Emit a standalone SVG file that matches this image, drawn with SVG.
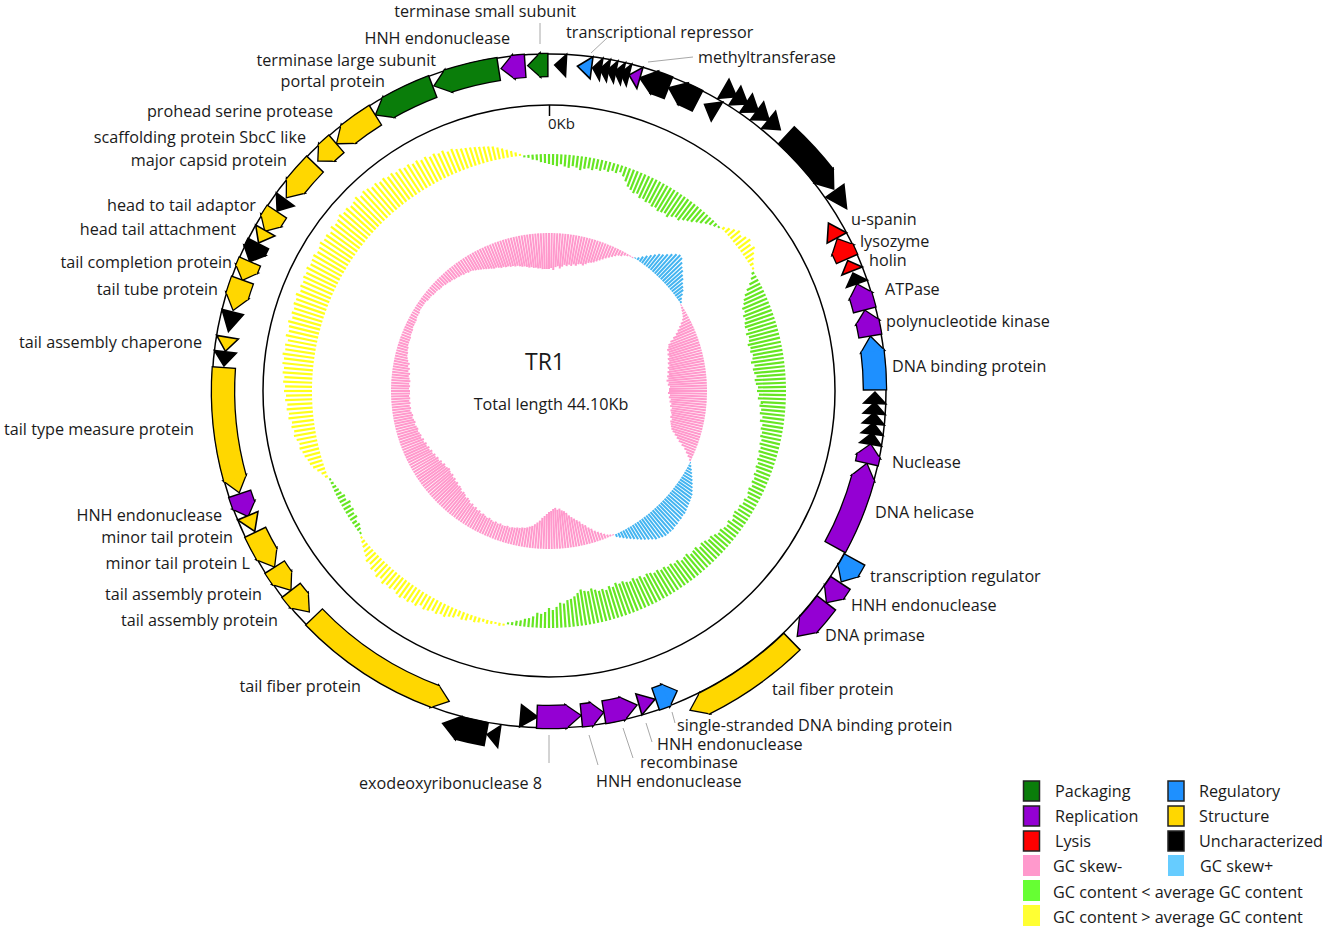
<svg xmlns="http://www.w3.org/2000/svg" width="1325" height="931" viewBox="0 0 1325 931">
<style>
.oi{fill:none;stroke:#000;stroke-width:24.6}
.cb{fill:none;stroke-width:22}
.ho{fill:#000;stroke:#000;stroke-width:2.6;stroke-linejoin:miter;stroke-miterlimit:10}
.tr{stroke:#000;stroke-width:1.6;stroke-linejoin:miter;stroke-miterlimit:10}
.fP{fill:#0a7d0a}.sP{stroke:#0a7d0a}
.fR{fill:#9400d3}.sR{stroke:#9400d3}
.fL{fill:#ff0000}.sL{stroke:#ff0000}
.fG{fill:#1e90ff}.sG{stroke:#1e90ff}
.fS{fill:#ffd700}.sS{stroke:#ffd700}
.fU{fill:#000}
.lb{font-family:"Open Sans","Liberation Sans",sans-serif;font-size:16.2px;fill:#1a1a1a}
.ln{stroke:#a8a8a8;stroke-width:1;fill:none}
.gl{stroke:#66e622;stroke-width:2.2}
.gh{stroke:#ffff1a;stroke-width:2.2}
.kp{stroke:#ff99cc;stroke-width:2}
.kb{stroke:#44b4f0;stroke-width:2}
</style>
<defs>
<path id="hi2" d="M0-326L10.99-314.81L11.76-336.79Z"/>
<path id="hi25" d="M0-326L13.74-314.70L14.70-336.68Z"/>
<path id="ti15" d="M0-326L8.25-314.89L8.82-336.89Z"/>
<path id="ti3" d="M0-326L16.49-314.57L17.64-336.54Z"/>
<path id="ti35" d="M0-326L19.23-314.41L20.57-336.37Z"/>
<path id="to2" d="M0-349L-11.80-337.79L-12.56-359.78Z"/>
<path id="to25" d="M0-349L-14.74-337.68L-15.70-359.66Z"/>
<path id="to35" d="M0-349L-20.64-337.37L-21.97-359.33Z"/>
</defs>
<rect width="1325" height="931" fill="#fff"/>

<g id="gc-content" transform="translate(549 391)">
<g class="gl">
<path d="M0-237v10" transform="rotate(0)"/><path d="M0-237v11" transform="rotate(1)"/><path d="M0-237v12" transform="rotate(2)"/><path d="M0-237v10" transform="rotate(3)"/><path d="M0-237v12" transform="rotate(4)"/><path d="M0-237v13" transform="rotate(5)"/><path d="M0-237v11" transform="rotate(6)"/><path d="M0-237v12" transform="rotate(7)"/><path d="M0-237v14" transform="rotate(8)"/><path d="M0-237v12" transform="rotate(9)"/><path d="M0-237v11" transform="rotate(10)"/><path d="M0-237v12" transform="rotate(11)"/><path d="M0-237v10" transform="rotate(12)"/><path d="M0-237v11" transform="rotate(13)"/><path d="M0-237v9" transform="rotate(14)"/><path d="M0-237v10" transform="rotate(15)"/><path d="M0-237v8" transform="rotate(16)"/><path d="M0-237v9" transform="rotate(17)"/><path d="M0-237v7" transform="rotate(18)"/><path d="M0-237v10" transform="rotate(19)"/><path d="M0-237v14" transform="rotate(20)"/><path d="M0-237v18" transform="rotate(21)"/><path d="M0-237v20" transform="rotate(22)"/><path d="M0-237v22" transform="rotate(23)"/><path d="M0-237v21" transform="rotate(24)"/><path d="M0-237v24" transform="rotate(25)"/><path d="M0-237v23" transform="rotate(26)"/><path d="M0-237v25" transform="rotate(27)"/><path d="M0-237v24" transform="rotate(28)"/><path d="M0-237v26" transform="rotate(29)"/><path d="M0-237v25" transform="rotate(30)"/><path d="M0-237v27" transform="rotate(31)"/><path d="M0-237v26" transform="rotate(32)"/><path d="M0-237v25" transform="rotate(33)"/><path d="M0-237v27" transform="rotate(34)"/><path d="M0-237v24" transform="rotate(35)"/><path d="M0-237v22" transform="rotate(36)"/><path d="M0-237v23" transform="rotate(37)"/><path d="M0-237v20" transform="rotate(38)"/><path d="M0-237v18" transform="rotate(39)"/><path d="M0-237v16" transform="rotate(40)"/><path d="M0-237v13" transform="rotate(41)"/><path d="M0-237v11" transform="rotate(42)"/><path d="M0-237v8" transform="rotate(43)"/><path d="M0-237v6" transform="rotate(44)"/><path d="M0-237v4" transform="rotate(45)"/><path d="M0-237v2" transform="rotate(46)"/>
<path d="M0-237v3" transform="rotate(60)"/><path d="M0-237v6" transform="rotate(61)"/><path d="M0-237v10" transform="rotate(62)"/><path d="M0-237v15" transform="rotate(63)"/><path d="M0-237v19" transform="rotate(64)"/><path d="M0-237v22" transform="rotate(65)"/><path d="M0-237v24" transform="rotate(66)"/><path d="M0-237v27" transform="rotate(67)"/><path d="M0-237v26" transform="rotate(68)"/><path d="M0-237v29" transform="rotate(69)"/><path d="M0-237v28" transform="rotate(70)"/><path d="M0-237v30" transform="rotate(71)"/><path d="M0-237v31" transform="rotate(72)"/><path d="M0-237v29" transform="rotate(73)"/><path d="M0-237v32" transform="rotate(74)"/><path d="M0-237v30" transform="rotate(75)"/><path d="M0-237v31" transform="rotate(76)"/><path d="M0-237v33" transform="rotate(77)"/><path d="M0-237v31" transform="rotate(78)"/><path d="M0-237v32" transform="rotate(79)"/><path d="M0-237v30" transform="rotate(80)"/><path d="M0-237v31" transform="rotate(81)"/><path d="M0-237v33" transform="rotate(82)"/><path d="M0-237v30" transform="rotate(83)"/><path d="M0-237v32" transform="rotate(84)"/><path d="M0-237v31" transform="rotate(85)"/><path d="M0-237v29" transform="rotate(86)"/><path d="M0-237v31" transform="rotate(87)"/><path d="M0-237v30" transform="rotate(88)"/><path d="M0-237v28" transform="rotate(89)"/><path d="M0-237v29" transform="rotate(90)"/><path d="M0-237v27" transform="rotate(91)"/><path d="M0-237v28" transform="rotate(92)"/><path d="M0-237v25" transform="rotate(93)"/><path d="M0-237v26" transform="rotate(94)"/><path d="M0-237v24" transform="rotate(95)"/><path d="M0-237v25" transform="rotate(96)"/><path d="M0-237v22" transform="rotate(97)"/><path d="M0-237v24" transform="rotate(98)"/><path d="M0-237v21" transform="rotate(99)"/><path d="M0-237v22" transform="rotate(100)"/><path d="M0-237v20" transform="rotate(101)"/><path d="M0-237v21" transform="rotate(102)"/><path d="M0-237v19" transform="rotate(103)"/><path d="M0-237v20" transform="rotate(104)"/><path d="M0-237v18" transform="rotate(105)"/><path d="M0-237v19" transform="rotate(106)"/><path d="M0-237v17" transform="rotate(107)"/><path d="M0-237v18" transform="rotate(108)"/><path d="M0-237v16" transform="rotate(109)"/><path d="M0-237v17" transform="rotate(110)"/><path d="M0-237v15" transform="rotate(111)"/><path d="M0-237v16" transform="rotate(112)"/><path d="M0-237v14" transform="rotate(113)"/><path d="M0-237v15" transform="rotate(114)"/><path d="M0-237v13" transform="rotate(115)"/><path d="M0-237v15" transform="rotate(116)"/><path d="M0-237v14" transform="rotate(117)"/><path d="M0-237v12" transform="rotate(118)"/><path d="M0-237v14" transform="rotate(119)"/><path d="M0-237v13" transform="rotate(120)"/><path d="M0-237v15" transform="rotate(121)"/><path d="M0-237v14" transform="rotate(122)"/><path d="M0-237v16" transform="rotate(123)"/><path d="M0-237v15" transform="rotate(124)"/><path d="M0-237v13" transform="rotate(125)"/><path d="M0-237v16" transform="rotate(126)"/><path d="M0-237v14" transform="rotate(127)"/><path d="M0-237v15" transform="rotate(128)"/><path d="M0-237v17" transform="rotate(129)"/><path d="M0-237v16" transform="rotate(130)"/><path d="M0-237v18" transform="rotate(131)"/><path d="M0-237v20" transform="rotate(132)"/><path d="M0-237v19" transform="rotate(133)"/><path d="M0-237v21" transform="rotate(134)"/><path d="M0-237v22" transform="rotate(135)"/><path d="M0-237v20" transform="rotate(136)"/><path d="M0-237v23" transform="rotate(137)"/><path d="M0-237v22" transform="rotate(138)"/><path d="M0-237v21" transform="rotate(139)"/><path d="M0-237v24" transform="rotate(140)"/><path d="M0-237v23" transform="rotate(141)"/><path d="M0-237v22" transform="rotate(142)"/><path d="M0-237v25" transform="rotate(143)"/><path d="M0-237v24" transform="rotate(144)"/><path d="M0-237v26" transform="rotate(145)"/><path d="M0-237v25" transform="rotate(146)"/><path d="M0-237v27" transform="rotate(147)"/><path d="M0-237v26" transform="rotate(148)"/><path d="M0-237v28" transform="rotate(149)"/><path d="M0-237v27" transform="rotate(150)"/><path d="M0-237v29" transform="rotate(151)"/><path d="M0-237v30" transform="rotate(152)"/><path d="M0-237v28" transform="rotate(153)"/><path d="M0-237v31" transform="rotate(154)"/><path d="M0-237v30" transform="rotate(155)"/><path d="M0-237v32" transform="rotate(156)"/><path d="M0-237v30" transform="rotate(157)"/><path d="M0-237v31" transform="rotate(158)"/><path d="M0-237v33" transform="rotate(159)"/><path d="M0-237v32" transform="rotate(160)"/><path d="M0-237v34" transform="rotate(161)"/><path d="M0-237v31" transform="rotate(162)"/><path d="M0-237v33" transform="rotate(163)"/><path d="M0-237v30" transform="rotate(164)"/><path d="M0-237v32" transform="rotate(165)"/><path d="M0-237v31" transform="rotate(166)"/><path d="M0-237v33" transform="rotate(167)"/><path d="M0-237v35" transform="rotate(168)"/><path d="M0-237v33" transform="rotate(169)"/><path d="M0-237v34" transform="rotate(170)"/><path d="M0-237v36" transform="rotate(171)"/><path d="M0-237v33" transform="rotate(172)"/><path d="M0-237v30" transform="rotate(173)"/><path d="M0-237v28" transform="rotate(174)"/><path d="M0-237v27" transform="rotate(175)"/><path d="M0-237v24" transform="rotate(176)"/><path d="M0-237v25" transform="rotate(177)"/><path d="M0-237v21" transform="rotate(178)"/><path d="M0-237v18" transform="rotate(179)"/><path d="M0-237v20" transform="rotate(180)"/><path d="M0-237v16" transform="rotate(181)"/><path d="M0-237v14" transform="rotate(182)"/><path d="M0-237v15" transform="rotate(183)"/><path d="M0-237v11" transform="rotate(184)"/><path d="M0-237v9" transform="rotate(185)"/><path d="M0-237v8" transform="rotate(186)"/><path d="M0-237v6" transform="rotate(187)"/><path d="M0-237v5" transform="rotate(188)"/><path d="M0-237v3" transform="rotate(189)"/><path d="M0-237v2" transform="rotate(190)"/>
<path d="M0-237v2" transform="rotate(233)"/><path d="M0-237v4" transform="rotate(234)"/><path d="M0-237v6" transform="rotate(235)"/><path d="M0-237v5" transform="rotate(236)"/><path d="M0-237v8" transform="rotate(237)"/><path d="M0-237v7" transform="rotate(238)"/><path d="M0-237v9" transform="rotate(239)"/><path d="M0-237v8" transform="rotate(240)"/><path d="M0-237v10" transform="rotate(241)"/><path d="M0-237v7" transform="rotate(242)"/><path d="M0-237v8" transform="rotate(243)"/><path d="M0-237v6" transform="rotate(244)"/><path d="M0-237v5" transform="rotate(245)"/><path d="M0-237v4" transform="rotate(246)"/><path d="M0-237v3" transform="rotate(247)"/><path d="M0-237v2" transform="rotate(248)"/>
<path d="M0-237v2" transform="rotate(354)"/><path d="M0-237v3" transform="rotate(355)"/><path d="M0-237v5" transform="rotate(356)"/><path d="M0-237v6" transform="rotate(357)"/><path d="M0-237v8" transform="rotate(358)"/><path d="M0-237v9" transform="rotate(359)"/>
</g>
<g class="gh">
<path d="M0-237v-3" transform="rotate(47)"/><path d="M0-237v-6" transform="rotate(48)"/><path d="M0-237v-9" transform="rotate(49)"/><path d="M0-237v-12" transform="rotate(50)"/><path d="M0-237v-10" transform="rotate(51)"/><path d="M0-237v-13" transform="rotate(52)"/><path d="M0-237v-15" transform="rotate(53)"/><path d="M0-237v-12" transform="rotate(54)"/><path d="M0-237v-14" transform="rotate(55)"/><path d="M0-237v-10" transform="rotate(56)"/><path d="M0-237v-7" transform="rotate(57)"/><path d="M0-237v-4" transform="rotate(58)"/><path d="M0-237v-2" transform="rotate(59)"/>
<path d="M0-237v-2" transform="rotate(191)"/><path d="M0-237v-3" transform="rotate(192)"/><path d="M0-237v-2" transform="rotate(193)"/><path d="M0-237v-3" transform="rotate(194)"/><path d="M0-237v-4" transform="rotate(195)"/><path d="M0-237v-3" transform="rotate(196)"/><path d="M0-237v-5" transform="rotate(197)"/><path d="M0-237v-6" transform="rotate(198)"/><path d="M0-237v-5" transform="rotate(199)"/><path d="M0-237v-7" transform="rotate(200)"/><path d="M0-237v-8" transform="rotate(201)"/><path d="M0-237v-6" transform="rotate(202)"/><path d="M0-237v-9" transform="rotate(203)"/><path d="M0-237v-10" transform="rotate(204)"/><path d="M0-237v-12" transform="rotate(205)"/><path d="M0-237v-11" transform="rotate(206)"/><path d="M0-237v-13" transform="rotate(207)"/><path d="M0-237v-12" transform="rotate(208)"/><path d="M0-237v-14" transform="rotate(209)"/><path d="M0-237v-15" transform="rotate(210)"/><path d="M0-237v-13" transform="rotate(211)"/><path d="M0-237v-16" transform="rotate(212)"/><path d="M0-237v-15" transform="rotate(213)"/><path d="M0-237v-17" transform="rotate(214)"/><path d="M0-237v-16" transform="rotate(215)"/><path d="M0-237v-18" transform="rotate(216)"/><path d="M0-237v-17" transform="rotate(217)"/><path d="M0-237v-15" transform="rotate(218)"/><path d="M0-237v-17" transform="rotate(219)"/><path d="M0-237v-16" transform="rotate(220)"/><path d="M0-237v-18" transform="rotate(221)"/><path d="M0-237v-15" transform="rotate(222)"/><path d="M0-237v-17" transform="rotate(223)"/><path d="M0-237v-14" transform="rotate(224)"/><path d="M0-237v-15" transform="rotate(225)"/><path d="M0-237v-12" transform="rotate(226)"/><path d="M0-237v-13" transform="rotate(227)"/><path d="M0-237v-10" transform="rotate(228)"/><path d="M0-237v-8" transform="rotate(229)"/><path d="M0-237v-6" transform="rotate(230)"/><path d="M0-237v-4" transform="rotate(231)"/><path d="M0-237v-2" transform="rotate(232)"/>
<path d="M0-237v-3" transform="rotate(249)"/><path d="M0-237v-5" transform="rotate(250)"/><path d="M0-237v-8" transform="rotate(251)"/><path d="M0-237v-11" transform="rotate(252)"/><path d="M0-237v-13" transform="rotate(253)"/><path d="M0-237v-14" transform="rotate(254)"/><path d="M0-237v-16" transform="rotate(255)"/><path d="M0-237v-17" transform="rotate(256)"/><path d="M0-237v-19" transform="rotate(257)"/><path d="M0-237v-18" transform="rotate(258)"/><path d="M0-237v-20" transform="rotate(259)"/><path d="M0-237v-22" transform="rotate(260)"/><path d="M0-237v-21" transform="rotate(261)"/><path d="M0-237v-23" transform="rotate(262)"/><path d="M0-237v-22" transform="rotate(263)"/><path d="M0-237v-25" transform="rotate(264)"/><path d="M0-237v-24" transform="rotate(265)"/><path d="M0-237v-26" transform="rotate(266)"/><path d="M0-237v-25" transform="rotate(267)"/><path d="M0-237v-27" transform="rotate(268)"/><path d="M0-237v-26" transform="rotate(269)"/><path d="M0-237v-28" transform="rotate(270)"/><path d="M0-237v-27" transform="rotate(271)"/><path d="M0-237v-29" transform="rotate(272)"/><path d="M0-237v-28" transform="rotate(273)"/><path d="M0-237v-30" transform="rotate(274)"/><path d="M0-237v-29" transform="rotate(275)"/><path d="M0-237v-31" transform="rotate(276)"/><path d="M0-237v-30" transform="rotate(277)"/><path d="M0-237v-32" transform="rotate(278)"/><path d="M0-237v-30" transform="rotate(279)"/><path d="M0-237v-31" transform="rotate(280)"/><path d="M0-237v-29" transform="rotate(281)"/><path d="M0-237v-32" transform="rotate(282)"/><path d="M0-237v-30" transform="rotate(283)"/><path d="M0-237v-31" transform="rotate(284)"/><path d="M0-237v-33" transform="rotate(285)"/><path d="M0-237v-30" transform="rotate(286)"/><path d="M0-237v-32" transform="rotate(287)"/><path d="M0-237v-31" transform="rotate(288)"/><path d="M0-237v-33" transform="rotate(289)"/><path d="M0-237v-32" transform="rotate(290)"/><path d="M0-237v-34" transform="rotate(291)"/><path d="M0-237v-31" transform="rotate(292)"/><path d="M0-237v-33" transform="rotate(293)"/><path d="M0-237v-32" transform="rotate(294)"/><path d="M0-237v-34" transform="rotate(295)"/><path d="M0-237v-33" transform="rotate(296)"/><path d="M0-237v-35" transform="rotate(297)"/><path d="M0-237v-33" transform="rotate(298)"/><path d="M0-237v-34" transform="rotate(299)"/><path d="M0-237v-35" transform="rotate(300)"/><path d="M0-237v-33" transform="rotate(301)"/><path d="M0-237v-34" transform="rotate(302)"/><path d="M0-237v-36" transform="rotate(303)"/><path d="M0-237v-34" transform="rotate(304)"/><path d="M0-237v-35" transform="rotate(305)"/><path d="M0-237v-33" transform="rotate(306)"/><path d="M0-237v-36" transform="rotate(307)"/><path d="M0-237v-34" transform="rotate(308)"/><path d="M0-237v-35" transform="rotate(309)"/><path d="M0-237v-37" transform="rotate(310)"/><path d="M0-237v-35" transform="rotate(311)"/><path d="M0-237v-36" transform="rotate(312)"/><path d="M0-237v-34" transform="rotate(313)"/><path d="M0-237v-35" transform="rotate(314)"/><path d="M0-237v-37" transform="rotate(315)"/><path d="M0-237v-34" transform="rotate(316)"/><path d="M0-237v-36" transform="rotate(317)"/><path d="M0-237v-35" transform="rotate(318)"/><path d="M0-237v-33" transform="rotate(319)"/><path d="M0-237v-34" transform="rotate(320)"/><path d="M0-237v-32" transform="rotate(321)"/><path d="M0-237v-33" transform="rotate(322)"/><path d="M0-237v-31" transform="rotate(323)"/><path d="M0-237v-32" transform="rotate(324)"/><path d="M0-237v-30" transform="rotate(325)"/><path d="M0-237v-31" transform="rotate(326)"/><path d="M0-237v-29" transform="rotate(327)"/><path d="M0-237v-30" transform="rotate(328)"/><path d="M0-237v-28" transform="rotate(329)"/><path d="M0-237v-29" transform="rotate(330)"/><path d="M0-237v-27" transform="rotate(331)"/><path d="M0-237v-28" transform="rotate(332)"/><path d="M0-237v-26" transform="rotate(333)"/><path d="M0-237v-27" transform="rotate(334)"/><path d="M0-237v-25" transform="rotate(335)"/><path d="M0-237v-26" transform="rotate(336)"/><path d="M0-237v-23" transform="rotate(337)"/><path d="M0-237v-24" transform="rotate(338)"/><path d="M0-237v-22" transform="rotate(339)"/><path d="M0-237v-21" transform="rotate(340)"/><path d="M0-237v-20" transform="rotate(341)"/><path d="M0-237v-19" transform="rotate(342)"/><path d="M0-237v-18" transform="rotate(343)"/><path d="M0-237v-17" transform="rotate(344)"/><path d="M0-237v-16" transform="rotate(345)"/><path d="M0-237v-15" transform="rotate(346)"/><path d="M0-237v-14" transform="rotate(347)"/><path d="M0-237v-12" transform="rotate(348)"/><path d="M0-237v-10" transform="rotate(349)"/><path d="M0-237v-8" transform="rotate(350)"/><path d="M0-237v-6" transform="rotate(351)"/><path d="M0-237v-4" transform="rotate(352)"/><path d="M0-237v-2" transform="rotate(353)"/>
</g>
</g>

<g id="gc-skew" transform="translate(549 391)">
<g class="kp">
<path d="M0-158v36" transform="rotate(0)"/><path d="M0-158v35" transform="rotate(1)"/><path d="M0-158v37" transform="rotate(2)"/><path d="M0-158v34" transform="rotate(3)"/><path d="M0-158v33" transform="rotate(4)"/><path d="M0-158v35" transform="rotate(5)"/><path d="M0-158v33" transform="rotate(6)"/><path d="M0-158v31" transform="rotate(7)"/><path d="M0-158v32" transform="rotate(8)"/><path d="M0-158v30" transform="rotate(9)"/><path d="M0-158v31" transform="rotate(10)"/><path d="M0-158v29" transform="rotate(11)"/><path d="M0-158v30" transform="rotate(12)"/><path d="M0-158v28" transform="rotate(13)"/><path d="M0-158v27" transform="rotate(14)"/><path d="M0-158v28" transform="rotate(15)"/><path d="M0-158v26" transform="rotate(16)"/><path d="M0-158v24" transform="rotate(17)"/><path d="M0-158v23" transform="rotate(18)"/><path d="M0-158v22" transform="rotate(19)"/><path d="M0-158v20" transform="rotate(20)"/><path d="M0-158v18" transform="rotate(21)"/><path d="M0-158v16" transform="rotate(22)"/><path d="M0-158v14" transform="rotate(23)"/><path d="M0-158v12" transform="rotate(24)"/><path d="M0-158v10" transform="rotate(25)"/><path d="M0-158v8" transform="rotate(26)"/><path d="M0-158v6" transform="rotate(27)"/><path d="M0-158v5" transform="rotate(28)"/><path d="M0-158v3" transform="rotate(29)"/><path d="M0-158v2" transform="rotate(30)"/><path d="M0-158v1" transform="rotate(31)"/><path d="M0-158v1" transform="rotate(32)"/>
<path d="M0-158v1" transform="rotate(57)"/><path d="M0-158v2" transform="rotate(58)"/><path d="M0-158v3" transform="rotate(59)"/><path d="M0-158v4" transform="rotate(60)"/><path d="M0-158v5" transform="rotate(61)"/><path d="M0-158v7" transform="rotate(62)"/><path d="M0-158v10" transform="rotate(63)"/><path d="M0-158v13" transform="rotate(64)"/><path d="M0-158v16" transform="rotate(65)"/><path d="M0-158v19" transform="rotate(66)"/><path d="M0-158v23" transform="rotate(67)"/><path d="M0-158v27" transform="rotate(68)"/><path d="M0-158v30" transform="rotate(69)"/><path d="M0-158v31" transform="rotate(70)"/><path d="M0-158v33" transform="rotate(71)"/><path d="M0-158v32" transform="rotate(72)"/><path d="M0-158v34" transform="rotate(73)"/><path d="M0-158v33" transform="rotate(74)"/><path d="M0-158v35" transform="rotate(75)"/><path d="M0-158v34" transform="rotate(76)"/><path d="M0-158v36" transform="rotate(77)"/><path d="M0-158v35" transform="rotate(78)"/><path d="M0-158v37" transform="rotate(79)"/><path d="M0-158v36" transform="rotate(80)"/><path d="M0-158v38" transform="rotate(81)"/><path d="M0-158v37" transform="rotate(82)"/><path d="M0-158v39" transform="rotate(83)"/><path d="M0-158v38" transform="rotate(84)"/><path d="M0-158v40" transform="rotate(85)"/><path d="M0-158v38" transform="rotate(86)"/><path d="M0-158v39" transform="rotate(87)"/><path d="M0-158v37" transform="rotate(88)"/><path d="M0-158v38" transform="rotate(89)"/><path d="M0-158v38" transform="rotate(90)"/><path d="M0-158v39" transform="rotate(91)"/><path d="M0-158v37" transform="rotate(92)"/><path d="M0-158v38" transform="rotate(93)"/><path d="M0-158v36" transform="rotate(94)"/><path d="M0-158v37" transform="rotate(95)"/><path d="M0-158v35" transform="rotate(96)"/><path d="M0-158v36" transform="rotate(97)"/><path d="M0-158v34" transform="rotate(98)"/><path d="M0-158v35" transform="rotate(99)"/><path d="M0-158v34" transform="rotate(100)"/><path d="M0-158v33" transform="rotate(101)"/><path d="M0-158v34" transform="rotate(102)"/><path d="M0-158v32" transform="rotate(103)"/><path d="M0-158v33" transform="rotate(104)"/><path d="M0-158v32" transform="rotate(105)"/><path d="M0-158v31" transform="rotate(106)"/><path d="M0-158v30" transform="rotate(107)"/><path d="M0-158v28" transform="rotate(108)"/><path d="M0-158v25" transform="rotate(109)"/><path d="M0-158v22" transform="rotate(110)"/><path d="M0-158v19" transform="rotate(111)"/><path d="M0-158v15" transform="rotate(112)"/><path d="M0-158v11" transform="rotate(113)"/><path d="M0-158v8" transform="rotate(114)"/><path d="M0-158v5" transform="rotate(115)"/><path d="M0-158v2" transform="rotate(116)"/>
<path d="M0-158v1" transform="rotate(156)"/><path d="M0-158v2" transform="rotate(157)"/><path d="M0-158v3" transform="rotate(158)"/><path d="M0-158v5" transform="rotate(159)"/><path d="M0-158v7" transform="rotate(160)"/><path d="M0-158v9" transform="rotate(161)"/><path d="M0-158v11" transform="rotate(162)"/><path d="M0-158v14" transform="rotate(163)"/><path d="M0-158v16" transform="rotate(164)"/><path d="M0-158v19" transform="rotate(165)"/><path d="M0-158v21" transform="rotate(166)"/><path d="M0-158v24" transform="rotate(167)"/><path d="M0-158v26" transform="rotate(168)"/><path d="M0-158v28" transform="rotate(169)"/><path d="M0-158v30" transform="rotate(170)"/><path d="M0-158v32" transform="rotate(171)"/><path d="M0-158v35" transform="rotate(172)"/><path d="M0-158v37" transform="rotate(173)"/><path d="M0-158v38" transform="rotate(174)"/><path d="M0-158v40" transform="rotate(175)"/><path d="M0-158v39" transform="rotate(176)"/><path d="M0-158v41" transform="rotate(177)"/><path d="M0-158v40" transform="rotate(178)"/><path d="M0-158v38" transform="rotate(179)"/><path d="M0-158v37" transform="rotate(180)"/><path d="M0-158v35" transform="rotate(181)"/><path d="M0-158v33" transform="rotate(182)"/><path d="M0-158v31" transform="rotate(183)"/><path d="M0-158v28" transform="rotate(184)"/><path d="M0-158v26" transform="rotate(185)"/><path d="M0-158v24" transform="rotate(186)"/><path d="M0-158v22" transform="rotate(187)"/><path d="M0-158v21" transform="rotate(188)"/><path d="M0-158v20" transform="rotate(189)"/><path d="M0-158v19" transform="rotate(190)"/><path d="M0-158v19" transform="rotate(191)"/><path d="M0-158v18" transform="rotate(192)"/><path d="M0-158v18" transform="rotate(193)"/><path d="M0-158v17" transform="rotate(194)"/><path d="M0-158v17" transform="rotate(195)"/><path d="M0-158v16" transform="rotate(196)"/><path d="M0-158v17" transform="rotate(197)"/><path d="M0-158v16" transform="rotate(198)"/><path d="M0-158v16" transform="rotate(199)"/><path d="M0-158v17" transform="rotate(200)"/><path d="M0-158v16" transform="rotate(201)"/><path d="M0-158v17" transform="rotate(202)"/><path d="M0-158v16" transform="rotate(203)"/><path d="M0-158v17" transform="rotate(204)"/><path d="M0-158v18" transform="rotate(205)"/><path d="M0-158v17" transform="rotate(206)"/><path d="M0-158v18" transform="rotate(207)"/><path d="M0-158v19" transform="rotate(208)"/><path d="M0-158v18" transform="rotate(209)"/><path d="M0-158v20" transform="rotate(210)"/><path d="M0-158v19" transform="rotate(211)"/><path d="M0-158v21" transform="rotate(212)"/><path d="M0-158v20" transform="rotate(213)"/><path d="M0-158v22" transform="rotate(214)"/><path d="M0-158v21" transform="rotate(215)"/><path d="M0-158v23" transform="rotate(216)"/><path d="M0-158v24" transform="rotate(217)"/><path d="M0-158v23" transform="rotate(218)"/><path d="M0-158v25" transform="rotate(219)"/><path d="M0-158v26" transform="rotate(220)"/><path d="M0-158v25" transform="rotate(221)"/><path d="M0-158v27" transform="rotate(222)"/><path d="M0-158v28" transform="rotate(223)"/><path d="M0-158v27" transform="rotate(224)"/><path d="M0-158v29" transform="rotate(225)"/><path d="M0-158v28" transform="rotate(226)"/><path d="M0-158v30" transform="rotate(227)"/><path d="M0-158v29" transform="rotate(228)"/><path d="M0-158v31" transform="rotate(229)"/><path d="M0-158v30" transform="rotate(230)"/><path d="M0-158v31" transform="rotate(231)"/><path d="M0-158v32" transform="rotate(232)"/><path d="M0-158v31" transform="rotate(233)"/><path d="M0-158v30" transform="rotate(234)"/><path d="M0-158v31" transform="rotate(235)"/><path d="M0-158v29" transform="rotate(236)"/><path d="M0-158v30" transform="rotate(237)"/><path d="M0-158v28" transform="rotate(238)"/><path d="M0-158v29" transform="rotate(239)"/><path d="M0-158v27" transform="rotate(240)"/><path d="M0-158v28" transform="rotate(241)"/><path d="M0-158v26" transform="rotate(242)"/><path d="M0-158v27" transform="rotate(243)"/><path d="M0-158v25" transform="rotate(244)"/><path d="M0-158v26" transform="rotate(245)"/><path d="M0-158v24" transform="rotate(246)"/><path d="M0-158v25" transform="rotate(247)"/><path d="M0-158v23" transform="rotate(248)"/><path d="M0-158v24" transform="rotate(249)"/><path d="M0-158v22" transform="rotate(250)"/><path d="M0-158v23" transform="rotate(251)"/><path d="M0-158v22" transform="rotate(252)"/><path d="M0-158v21" transform="rotate(253)"/><path d="M0-158v22" transform="rotate(254)"/><path d="M0-158v21" transform="rotate(255)"/><path d="M0-158v20" transform="rotate(256)"/><path d="M0-158v21" transform="rotate(257)"/><path d="M0-158v20" transform="rotate(258)"/><path d="M0-158v19" transform="rotate(259)"/><path d="M0-158v20" transform="rotate(260)"/><path d="M0-158v19" transform="rotate(261)"/><path d="M0-158v18" transform="rotate(262)"/><path d="M0-158v19" transform="rotate(263)"/><path d="M0-158v18" transform="rotate(264)"/><path d="M0-158v19" transform="rotate(265)"/><path d="M0-158v18" transform="rotate(266)"/><path d="M0-158v19" transform="rotate(267)"/><path d="M0-158v18" transform="rotate(268)"/><path d="M0-158v19" transform="rotate(269)"/><path d="M0-158v19" transform="rotate(270)"/><path d="M0-158v18" transform="rotate(271)"/><path d="M0-158v19" transform="rotate(272)"/><path d="M0-158v18" transform="rotate(273)"/><path d="M0-158v19" transform="rotate(274)"/><path d="M0-158v18" transform="rotate(275)"/><path d="M0-158v17" transform="rotate(276)"/><path d="M0-158v18" transform="rotate(277)"/><path d="M0-158v16" transform="rotate(278)"/><path d="M0-158v17" transform="rotate(279)"/><path d="M0-158v15" transform="rotate(280)"/><path d="M0-158v16" transform="rotate(281)"/><path d="M0-158v14" transform="rotate(282)"/><path d="M0-158v13" transform="rotate(283)"/><path d="M0-158v12" transform="rotate(284)"/><path d="M0-158v12" transform="rotate(285)"/><path d="M0-158v11" transform="rotate(286)"/><path d="M0-158v11" transform="rotate(287)"/><path d="M0-158v10" transform="rotate(288)"/><path d="M0-158v10" transform="rotate(289)"/><path d="M0-158v10" transform="rotate(290)"/><path d="M0-158v10" transform="rotate(291)"/><path d="M0-158v9" transform="rotate(292)"/><path d="M0-158v9" transform="rotate(293)"/><path d="M0-158v9" transform="rotate(294)"/><path d="M0-158v8" transform="rotate(295)"/><path d="M0-158v8" transform="rotate(296)"/><path d="M0-158v8" transform="rotate(297)"/><path d="M0-158v8" transform="rotate(298)"/><path d="M0-158v7" transform="rotate(299)"/><path d="M0-158v7" transform="rotate(300)"/><path d="M0-158v7" transform="rotate(301)"/><path d="M0-158v6" transform="rotate(302)"/><path d="M0-158v6" transform="rotate(303)"/><path d="M0-158v6" transform="rotate(304)"/><path d="M0-158v6" transform="rotate(305)"/><path d="M0-158v6" transform="rotate(306)"/><path d="M0-158v7" transform="rotate(307)"/><path d="M0-158v7" transform="rotate(308)"/><path d="M0-158v7" transform="rotate(309)"/><path d="M0-158v8" transform="rotate(310)"/><path d="M0-158v8" transform="rotate(311)"/><path d="M0-158v8" transform="rotate(312)"/><path d="M0-158v9" transform="rotate(313)"/><path d="M0-158v9" transform="rotate(314)"/><path d="M0-158v9" transform="rotate(315)"/><path d="M0-158v10" transform="rotate(316)"/><path d="M0-158v10" transform="rotate(317)"/><path d="M0-158v11" transform="rotate(318)"/><path d="M0-158v11" transform="rotate(319)"/><path d="M0-158v12" transform="rotate(320)"/><path d="M0-158v12" transform="rotate(321)"/><path d="M0-158v13" transform="rotate(322)"/><path d="M0-158v13" transform="rotate(323)"/><path d="M0-158v14" transform="rotate(324)"/><path d="M0-158v14" transform="rotate(325)"/><path d="M0-158v15" transform="rotate(326)"/><path d="M0-158v15" transform="rotate(327)"/><path d="M0-158v16" transform="rotate(328)"/><path d="M0-158v17" transform="rotate(329)"/><path d="M0-158v18" transform="rotate(330)"/><path d="M0-158v19" transform="rotate(331)"/><path d="M0-158v20" transform="rotate(332)"/><path d="M0-158v21" transform="rotate(333)"/><path d="M0-158v22" transform="rotate(334)"/><path d="M0-158v23" transform="rotate(335)"/><path d="M0-158v24" transform="rotate(336)"/><path d="M0-158v24" transform="rotate(337)"/><path d="M0-158v25" transform="rotate(338)"/><path d="M0-158v26" transform="rotate(339)"/><path d="M0-158v26" transform="rotate(340)"/><path d="M0-158v27" transform="rotate(341)"/><path d="M0-158v27" transform="rotate(342)"/><path d="M0-158v28" transform="rotate(343)"/><path d="M0-158v28" transform="rotate(344)"/><path d="M0-158v29" transform="rotate(345)"/><path d="M0-158v29" transform="rotate(346)"/><path d="M0-158v30" transform="rotate(347)"/><path d="M0-158v31" transform="rotate(348)"/><path d="M0-158v31" transform="rotate(349)"/><path d="M0-158v32" transform="rotate(350)"/><path d="M0-158v33" transform="rotate(351)"/><path d="M0-158v33" transform="rotate(352)"/><path d="M0-158v34" transform="rotate(353)"/><path d="M0-158v34" transform="rotate(354)"/><path d="M0-158v35" transform="rotate(355)"/><path d="M0-158v35" transform="rotate(356)"/><path d="M0-158v36" transform="rotate(357)"/><path d="M0-158v36" transform="rotate(358)"/><path d="M0-158v36" transform="rotate(359)"/>
</g>
<g class="kb">
<path d="M0-158v-1" transform="rotate(33)"/><path d="M0-158v-3" transform="rotate(34)"/><path d="M0-158v-6" transform="rotate(35)"/><path d="M0-158v-9" transform="rotate(36)"/><path d="M0-158v-12" transform="rotate(37)"/><path d="M0-158v-15" transform="rotate(38)"/><path d="M0-158v-18" transform="rotate(39)"/><path d="M0-158v-20" transform="rotate(40)"/><path d="M0-158v-23" transform="rotate(41)"/><path d="M0-158v-26" transform="rotate(42)"/><path d="M0-158v-29" transform="rotate(43)"/><path d="M0-158v-31" transform="rotate(44)"/><path d="M0-158v-30" transform="rotate(45)"/><path d="M0-158v-27" transform="rotate(46)"/><path d="M0-158v-24" transform="rotate(47)"/><path d="M0-158v-22" transform="rotate(48)"/><path d="M0-158v-19" transform="rotate(49)"/><path d="M0-158v-17" transform="rotate(50)"/><path d="M0-158v-14" transform="rotate(51)"/><path d="M0-158v-12" transform="rotate(52)"/><path d="M0-158v-10" transform="rotate(53)"/><path d="M0-158v-7" transform="rotate(54)"/><path d="M0-158v-4" transform="rotate(55)"/><path d="M0-158v-2" transform="rotate(56)"/>
<path d="M0-158v-1" transform="rotate(117)"/><path d="M0-158v-3" transform="rotate(118)"/><path d="M0-158v-5" transform="rotate(119)"/><path d="M0-158v-7" transform="rotate(120)"/><path d="M0-158v-9" transform="rotate(121)"/><path d="M0-158v-11" transform="rotate(122)"/><path d="M0-158v-13" transform="rotate(123)"/><path d="M0-158v-15" transform="rotate(124)"/><path d="M0-158v-17" transform="rotate(125)"/><path d="M0-158v-19" transform="rotate(126)"/><path d="M0-158v-20" transform="rotate(127)"/><path d="M0-158v-21" transform="rotate(128)"/><path d="M0-158v-22" transform="rotate(129)"/><path d="M0-158v-23" transform="rotate(130)"/><path d="M0-158v-24" transform="rotate(131)"/><path d="M0-158v-25" transform="rotate(132)"/><path d="M0-158v-25" transform="rotate(133)"/><path d="M0-158v-26" transform="rotate(134)"/><path d="M0-158v-26" transform="rotate(135)"/><path d="M0-158v-27" transform="rotate(136)"/><path d="M0-158v-27" transform="rotate(137)"/><path d="M0-158v-28" transform="rotate(138)"/><path d="M0-158v-28" transform="rotate(139)"/><path d="M0-158v-28" transform="rotate(140)"/><path d="M0-158v-28" transform="rotate(141)"/><path d="M0-158v-27" transform="rotate(142)"/><path d="M0-158v-26" transform="rotate(143)"/><path d="M0-158v-25" transform="rotate(144)"/><path d="M0-158v-23" transform="rotate(145)"/><path d="M0-158v-21" transform="rotate(146)"/><path d="M0-158v-19" transform="rotate(147)"/><path d="M0-158v-17" transform="rotate(148)"/><path d="M0-158v-15" transform="rotate(149)"/><path d="M0-158v-13" transform="rotate(150)"/><path d="M0-158v-11" transform="rotate(151)"/><path d="M0-158v-9" transform="rotate(152)"/><path d="M0-158v-7" transform="rotate(153)"/><path d="M0-158v-5" transform="rotate(154)"/><path d="M0-158v-3" transform="rotate(155)"/>
</g>
</g>

<g id="backbone" fill="none" stroke="#000" stroke-width="1.5">
<circle cx="549" cy="391" r="337"/>
<circle cx="549" cy="391" r="286"/>
<line x1="549.5" y1="105" x2="549.5" y2="116"/>
</g>
<text x="548" y="129" font-family="Open Sans, Liberation Sans, sans-serif" font-size="15" fill="#1a1a1a">0Kb</text>
<text x="545" y="370" text-anchor="middle" font-family="Open Sans, Liberation Sans, sans-serif" font-size="23" fill="#1a1a1a">TR1</text>
<text x="551" y="410" text-anchor="middle" class="lb">Total length 44.10Kb</text>

<g id="connectors" class="ln">
<line x1="540" y1="23" x2="540" y2="44"/>
<line x1="607" y1="38" x2="591" y2="53"/>
<line x1="648" y1="62" x2="693" y2="57"/>
<line x1="549" y1="735" x2="549" y2="763"/>
<line x1="589" y1="735" x2="598" y2="765"/>
<line x1="623" y1="728" x2="633" y2="758"/>
<line x1="646" y1="723" x2="652" y2="742"/>
<line x1="672" y1="712" x2="675" y2="723"/>
</g>

<g id="genes">
<g id="gene-terminase-small"><g transform="translate(549 391)"><use href="#hi2" class="ho" transform="rotate(-3.6)"/><circle r="326" class="oi" transform="rotate(-91.8)" stroke-dasharray="9.96 4000"/><circle r="326" class="cb sP" transform="rotate(-91.8)" stroke-dasharray="8.53 4000"/><use href="#hi2" class="fP" transform="rotate(-3.6)"/></g><text class="lb" x="576" y="17" text-anchor="end">terminase small subunit</text></g>
<g id="gene-hnh-top"><g transform="translate(549 391)"><use href="#hi2" class="ho" transform="rotate(-8.3)"/><circle r="326" class="oi" transform="rotate(-96.5)" stroke-dasharray="13.94 4000"/><circle r="326" class="cb sR" transform="rotate(-96.5)" stroke-dasharray="12.52 4000"/><use href="#hi2" class="fR" transform="rotate(-8.3)"/></g><text class="lb" x="510" y="44" text-anchor="end">HNH endonuclease</text></g>
<g id="gene-terminase-large"><g transform="translate(549 391)"><use href="#hi25" class="ho" transform="rotate(-20.5)"/><circle r="326" class="oi" transform="rotate(-108.2)" stroke-dasharray="53.77 4000"/><circle r="326" class="cb sP" transform="rotate(-108.2)" stroke-dasharray="52.35 4000"/><use href="#hi25" class="fP" transform="rotate(-20.5)"/></g><text class="lb" x="436" y="66" text-anchor="end">terminase large subunit</text></g>
<g id="gene-portal"><g transform="translate(549 391)"><use href="#hi25" class="ho" transform="rotate(-32)"/><circle r="326" class="oi" transform="rotate(-119.7)" stroke-dasharray="50.92 4000"/><circle r="326" class="cb sP" transform="rotate(-119.7)" stroke-dasharray="49.5 4000"/><use href="#hi25" class="fP" transform="rotate(-32)"/></g><text class="lb" x="385" y="87" text-anchor="end">portal protein</text></g>
<g id="gene-prohead"><g transform="translate(549 391)"><use href="#hi25" class="ho" transform="rotate(319.5)"/><circle r="326" class="oi" transform="rotate(231.8)" stroke-dasharray="34.99 4000"/><circle r="326" class="cb sS" transform="rotate(231.8)" stroke-dasharray="33.57 4000"/><use href="#hi25" class="fS" transform="rotate(319.5)"/></g><text class="lb" x="333" y="117" text-anchor="end">prohead serine protease</text></g>
<g id="gene-scaffolding"><g transform="translate(549 391)"><use href="#hi2" class="ho" transform="rotate(315)"/><circle r="326" class="oi" transform="rotate(226.8)" stroke-dasharray="15.08 4000"/><circle r="326" class="cb sS" transform="rotate(226.8)" stroke-dasharray="13.66 4000"/><use href="#hi2" class="fS" transform="rotate(315)"/></g><text class="lb" x="306" y="143" text-anchor="end">scaffolding protein SbcC like</text></g>
<g id="gene-major-capsid"><g transform="translate(549 391)"><use href="#hi25" class="ho" transform="rotate(306.5)"/><circle r="326" class="oi" transform="rotate(218.8)" stroke-dasharray="31.01 4000"/><circle r="326" class="cb sS" transform="rotate(218.8)" stroke-dasharray="29.59 4000"/><use href="#hi25" class="fS" transform="rotate(306.5)"/></g><text class="lb" x="287" y="166" text-anchor="end">major capsid protein</text></g>
<g id="gene-u1"><g transform="translate(549 391)"><use href="#hi25" class="tr fU" transform="rotate(303.5)"/></g></g>
<g id="gene-head-to-tail"><g transform="translate(549 391)"><use href="#hi2" class="ho" transform="rotate(299.5)"/><circle r="326" class="oi" transform="rotate(211.3)" stroke-dasharray="12.8 4000"/><circle r="326" class="cb sS" transform="rotate(211.3)" stroke-dasharray="11.38 4000"/><use href="#hi2" class="fS" transform="rotate(299.5)"/></g><text class="lb" x="256" y="211" text-anchor="end">head to tail adaptor</text></g>
<g id="gene-head-tail-attachment"><g transform="translate(549 391)"><use href="#hi25" class="tr fS" transform="rotate(297)"/></g><text class="lb" x="236" y="235" text-anchor="end">head tail attachment</text></g>
<g id="gene-u2"><g transform="translate(549 391)"><use href="#hi2" class="ho" transform="rotate(293.5)"/><circle r="326" class="oi" transform="rotate(205.3)" stroke-dasharray="9.96 4000"/></g></g>
<g id="gene-tail-completion"><g transform="translate(549 391)"><use href="#hi2" class="ho" transform="rotate(290)"/><circle r="326" class="oi" transform="rotate(201.8)" stroke-dasharray="9.96 4000"/><circle r="326" class="cb sS" transform="rotate(201.8)" stroke-dasharray="8.53 4000"/><use href="#hi2" class="fS" transform="rotate(290)"/></g><text class="lb" x="232" y="268" text-anchor="end">tail completion protein</text></g>
<g id="gene-tail-tube"><g transform="translate(549 391)"><use href="#hi25" class="ho" transform="rotate(284.5)"/><circle r="326" class="oi" transform="rotate(196.8)" stroke-dasharray="18.49 4000"/><circle r="326" class="cb sS" transform="rotate(196.8)" stroke-dasharray="17.07 4000"/><use href="#hi25" class="fS" transform="rotate(284.5)"/></g><text class="lb" x="218" y="295" text-anchor="end">tail tube protein</text></g>
<g id="gene-u3"><g transform="translate(549 391)"><use href="#ti35" class="tr fU" transform="rotate(280.5)"/></g></g>
<g id="gene-tail-chaperone"><g transform="translate(549 391)"><use href="#hi25" class="tr fS" transform="rotate(277)"/></g><text class="lb" x="202" y="348" text-anchor="end">tail assembly chaperone</text></g>
<g id="gene-u4"><g transform="translate(549 391)"><use href="#hi25" class="tr fU" transform="rotate(274.4)"/></g></g>
<g id="gene-tail-measure"><g transform="translate(549 391)"><use href="#hi25" class="ho" transform="rotate(252)"/><circle r="326" class="oi" transform="rotate(164.3)" stroke-dasharray="113.51 4000"/><circle r="326" class="cb sS" transform="rotate(164.3)" stroke-dasharray="112.09 4000"/><use href="#hi25" class="fS" transform="rotate(252)"/></g><text class="lb" x="194" y="435" text-anchor="end">tail type measure protein</text></g>
<g id="gene-hnh-left"><g transform="translate(549 391)"><use href="#hi2" class="ho" transform="rotate(247.5)"/><circle r="326" class="oi" transform="rotate(159.3)" stroke-dasharray="13.94 4000"/><circle r="326" class="cb sR" transform="rotate(159.3)" stroke-dasharray="12.52 4000"/><use href="#hi2" class="fR" transform="rotate(247.5)"/></g><text class="lb" x="222" y="521" text-anchor="end">HNH endonuclease</text></g>
<g id="gene-minor-tail"><g transform="translate(549 391)"><use href="#ti3" class="tr fS" transform="rotate(244.5)"/></g><text class="lb" x="233" y="543" text-anchor="end">minor tail protein</text></g>
<g id="gene-minor-tail-l"><g transform="translate(549 391)"><use href="#hi25" class="ho" transform="rotate(237.5)"/><circle r="326" class="oi" transform="rotate(149.8)" stroke-dasharray="26.46 4000"/><circle r="326" class="cb sS" transform="rotate(149.8)" stroke-dasharray="25.04 4000"/><use href="#hi25" class="fS" transform="rotate(237.5)"/></g><text class="lb" x="250" y="569" text-anchor="end">minor tail protein L</text></g>
<g id="gene-tail-assembly-1"><g transform="translate(549 391)"><use href="#hi25" class="ho" transform="rotate(232.5)"/><circle r="326" class="oi" transform="rotate(144.8)" stroke-dasharray="15.08 4000"/><circle r="326" class="cb sS" transform="rotate(144.8)" stroke-dasharray="13.66 4000"/><use href="#hi25" class="fS" transform="rotate(232.5)"/></g><text class="lb" x="262" y="600" text-anchor="end">tail assembly protein</text></g>
<g id="gene-tail-assembly-2"><g transform="translate(549 391)"><use href="#hi25" class="ho" transform="rotate(227.5)"/><circle r="326" class="oi" transform="rotate(139.8)" stroke-dasharray="15.08 4000"/><circle r="326" class="cb sS" transform="rotate(139.8)" stroke-dasharray="13.66 4000"/><use href="#hi25" class="fS" transform="rotate(227.5)"/></g><text class="lb" x="278" y="626" text-anchor="end">tail assembly protein</text></g>
<g id="gene-tail-fiber-left"><g transform="translate(549 391)"><use href="#hi25" class="ho" transform="rotate(198)"/><circle r="326" class="oi" transform="rotate(110.3)" stroke-dasharray="147.65 4000"/><circle r="326" class="cb sS" transform="rotate(110.3)" stroke-dasharray="146.23 4000"/><use href="#hi25" class="fS" transform="rotate(198)"/></g><text class="lb" x="361" y="692" text-anchor="end">tail fiber protein</text></g>
<g id="gene-u5"><g transform="translate(549 391)"><circle r="349" class="oi" transform="rotate(100.25)" stroke-dasharray="30.76 4000"/><use href="#to25" class="ho" transform="rotate(197.6)"/></g></g>
<g id="gene-u6"><g transform="translate(549 391)"><use href="#to2" class="tr fU" transform="rotate(190.2)"/></g></g>
<g id="gene-u7"><g transform="translate(549 391)"><use href="#ti3" class="tr fU" transform="rotate(182)"/></g></g>
<g id="gene-exodeoxyribonuclease"><g transform="translate(549 391)"><use href="#hi25" class="ho" transform="rotate(174.5)"/><circle r="326" class="oi" transform="rotate(86.8)" stroke-dasharray="31.01 4000"/><circle r="326" class="cb sR" transform="rotate(86.8)" stroke-dasharray="29.59 4000"/><use href="#hi25" class="fR" transform="rotate(174.5)"/></g><text class="lb" x="542" y="789" text-anchor="end">exodeoxyribonuclease 8</text></g>
<g id="gene-hnh-bottom"><g transform="translate(549 391)"><use href="#hi2" class="ho" transform="rotate(170.5)"/><circle r="326" class="oi" transform="rotate(82.3)" stroke-dasharray="12.23 4000"/><circle r="326" class="cb sR" transform="rotate(82.3)" stroke-dasharray="10.81 4000"/><use href="#hi2" class="fR" transform="rotate(170.5)"/></g><text class="lb" x="596" y="787">HNH endonuclease</text></g>
<g id="gene-recombinase"><g transform="translate(549 391)"><use href="#hi25" class="ho" transform="rotate(164.5)"/><circle r="326" class="oi" transform="rotate(76.8)" stroke-dasharray="20.77 4000"/><circle r="326" class="cb sR" transform="rotate(76.8)" stroke-dasharray="19.35 4000"/><use href="#hi25" class="fR" transform="rotate(164.5)"/></g><text class="lb" x="640" y="768">recombinase</text></g>
<g id="gene-hnh-bottom-2"><g transform="translate(549 391)"><use href="#ti3" class="tr fR" transform="rotate(161)"/></g><text class="lb" x="657" y="750">HNH endonuclease</text></g>
<g id="gene-ssb"><g transform="translate(549 391)"><use href="#hi2" class="ho" transform="rotate(157)"/><circle r="326" class="oi" transform="rotate(68.8)" stroke-dasharray="12.8 4000"/><circle r="326" class="cb sG" transform="rotate(68.8)" stroke-dasharray="11.38 4000"/><use href="#hi2" class="fG" transform="rotate(157)"/></g><text class="lb" x="677" y="731">single-stranded DNA binding protein</text></g>
<g id="gene-tail-fiber-right"><g transform="translate(549 391)"><use href="#to25" class="ho" transform="rotate(156)"/><circle r="349" class="oi" transform="rotate(45.75)" stroke-dasharray="109.34 4000"/><circle r="349" class="cb sS" transform="rotate(46)" stroke-dasharray="107.81 4000"/><use href="#to25" class="fS" transform="rotate(156)"/></g><text class="lb" x="772" y="695">tail fiber protein</text></g>
<g id="gene-dna-primase"><g transform="translate(549 391)"><use href="#to25" class="ho" transform="rotate(134.5)"/><circle r="349" class="oi" transform="rotate(37.25)" stroke-dasharray="30.15 4000"/><circle r="349" class="cb sR" transform="rotate(37.5)" stroke-dasharray="28.63 4000"/><use href="#to25" class="fR" transform="rotate(134.5)"/></g><text class="lb" x="825" y="641">DNA primase</text></g>
<g id="gene-hnh-right"><g transform="translate(549 391)"><use href="#to2" class="ho" transform="rotate(127.2)"/><circle r="349" class="oi" transform="rotate(33.25)" stroke-dasharray="13.1 4000"/><circle r="349" class="cb sR" transform="rotate(33.5)" stroke-dasharray="11.57 4000"/><use href="#to2" class="fR" transform="rotate(127.2)"/></g><text class="lb" x="851" y="611">HNH endonuclease</text></g>
<g id="gene-transcription-regulator"><g transform="translate(549 391)"><use href="#to2" class="ho" transform="rotate(123)"/><circle r="349" class="oi" transform="rotate(28.75)" stroke-dasharray="14.92 4000"/><circle r="349" class="cb sG" transform="rotate(29)" stroke-dasharray="13.4 4000"/><use href="#to2" class="fG" transform="rotate(123)"/></g><text class="lb" x="870" y="582">transcription regulator</text></g>
<g id="gene-dna-helicase"><g transform="translate(549 391)"><use href="#hi25" class="ho" transform="rotate(103)"/><circle r="326" class="oi" transform="rotate(15.3)" stroke-dasharray="76.53 4000"/><circle r="326" class="cb sR" transform="rotate(15.3)" stroke-dasharray="75.11 4000"/><use href="#hi25" class="fR" transform="rotate(103)"/></g><text class="lb" x="875" y="518">DNA helicase</text></g>
<g id="gene-nuclease"><g transform="translate(549 391)"><use href="#hi2" class="ho" transform="rotate(99.5)"/><circle r="326" class="oi" transform="rotate(11.3)" stroke-dasharray="9.39 4000"/><circle r="326" class="cb sR" transform="rotate(11.3)" stroke-dasharray="7.97 4000"/><use href="#hi2" class="fR" transform="rotate(99.5)"/></g><text class="lb" x="892" y="468">Nuclease</text></g>
<g id="gene-u8"><g transform="translate(549 391)"><use href="#hi2" class="tr fU" transform="rotate(97.4)"/><use href="#hi2" class="tr fU" transform="rotate(95.6)"/><use href="#hi2" class="tr fU" transform="rotate(93.8)"/><use href="#hi2" class="tr fU" transform="rotate(92)"/><use href="#hi2" class="tr fU" transform="rotate(90.2)"/></g></g>
<g id="gene-dna-binding"><g transform="translate(549 391)"><use href="#hi25" class="ho" transform="rotate(80.5)"/><circle r="326" class="oi" transform="rotate(-7.2)" stroke-dasharray="40.68 4000"/><circle r="326" class="cb sG" transform="rotate(-7.2)" stroke-dasharray="39.26 4000"/><use href="#hi25" class="fG" transform="rotate(80.5)"/></g><text class="lb" x="892" y="372">DNA binding protein</text></g>
<g id="gene-pnk"><g transform="translate(549 391)"><use href="#hi2" class="ho" transform="rotate(75.8)"/><circle r="326" class="oi" transform="rotate(-12.4)" stroke-dasharray="16.22 4000"/><circle r="326" class="cb sR" transform="rotate(-12.4)" stroke-dasharray="14.79 4000"/><use href="#hi2" class="fR" transform="rotate(75.8)"/></g><text class="lb" x="886" y="327">polynucleotide kinase</text></g>
<g id="gene-atpase"><g transform="translate(549 391)"><use href="#hi2" class="ho" transform="rotate(71)"/><circle r="326" class="oi" transform="rotate(-17.2)" stroke-dasharray="16.78 4000"/><circle r="326" class="cb sR" transform="rotate(-17.2)" stroke-dasharray="15.36 4000"/><use href="#hi2" class="fR" transform="rotate(71)"/></g><text class="lb" x="885" y="295">ATPase</text></g>
<g id="gene-u9"><g transform="translate(549 391)"><use href="#hi2" class="tr fU" transform="rotate(68.8)"/></g></g>
<g id="gene-holin"><g transform="translate(549 391)"><use href="#hi2" class="tr fL" transform="rotate(66.4)"/></g><text class="lb" x="869" y="266">holin</text></g>
<g id="gene-lysozyme"><g transform="translate(549 391)"><use href="#hi2" class="ho" transform="rotate(62.3)"/><circle r="326" class="oi" transform="rotate(-25.9)" stroke-dasharray="12.23 4000"/><circle r="326" class="cb sL" transform="rotate(-25.9)" stroke-dasharray="10.81 4000"/><use href="#hi2" class="fL" transform="rotate(62.3)"/></g><text class="lb" x="860" y="247">lysozyme</text></g>
<g id="gene-u-spanin"><g transform="translate(549 391)"><use href="#ti3" class="tr fL" transform="rotate(59)"/></g><text class="lb" x="851" y="225">u-spanin</text></g>
<g id="gene-u10"><g transform="translate(549 391)"><use href="#to35" class="tr fU" transform="rotate(58.5)"/></g></g>
<g id="gene-u11"><g transform="translate(549 391)"><circle r="349" class="oi" transform="rotate(-47.25)" stroke-dasharray="57.56 4000"/><use href="#to25" class="ho" transform="rotate(54.5)"/></g></g>
<g id="gene-u12"><g transform="translate(549 391)"><use href="#to25" class="tr fU" transform="rotate(32.5)"/><use href="#to25" class="tr fU" transform="rotate(34.7)"/><use href="#to25" class="tr fU" transform="rotate(36.9)"/><use href="#to25" class="tr fU" transform="rotate(39.1)"/><use href="#to25" class="tr fU" transform="rotate(41.5)"/></g></g>
<g id="gene-u13"><g transform="translate(549 391)"><use href="#hi25" class="tr fU" transform="rotate(28.5)"/></g></g>
<g id="gene-u14"><g transform="translate(549 391)"><use href="#hi25" class="ho" transform="rotate(21.7)"/><circle r="326" class="oi" transform="rotate(-66)" stroke-dasharray="18.49 4000"/></g></g>
<g id="gene-u15"><g transform="translate(549 391)"><use href="#hi25" class="ho" transform="rotate(16.3)"/><circle r="326" class="oi" transform="rotate(-71.4)" stroke-dasharray="17.35 4000"/></g></g>
<g id="gene-methyltransferase"><g transform="translate(549 391)"><use href="#hi2" class="tr fR" transform="rotate(14.2)"/></g><text class="lb" x="698" y="63">methyltransferase</text></g>
<g id="gene-u16"><g transform="translate(549 391)"><use href="#ti15" class="tr fU" transform="rotate(12.7)"/><use href="#ti15" class="tr fU" transform="rotate(11.6)"/><use href="#ti15" class="tr fU" transform="rotate(10.3)"/><use href="#ti15" class="tr fU" transform="rotate(9)"/><use href="#ti15" class="tr fU" transform="rotate(7.7)"/></g></g>
<g id="gene-transcriptional-repressor"><g transform="translate(549 391)"><use href="#hi25" class="tr fG" transform="rotate(5)"/></g><text class="lb" x="566" y="38">transcriptional repressor</text></g>
<g id="gene-u17"><g transform="translate(549 391)"><use href="#hi2" class="tr fU" transform="rotate(1)"/></g></g>
</g>

<g id="legend">
<g stroke="#222" stroke-width="1.5">
<rect x="1023.5" y="781" width="16" height="20" fill="#0a7d0a"/>
<rect x="1023.5" y="806" width="16" height="20" fill="#9400d3"/>
<rect x="1023.5" y="831" width="16" height="20" fill="#ff0000"/>
<rect x="1168" y="781" width="16" height="20" fill="#1e90ff"/>
<rect x="1168" y="806" width="16" height="20" fill="#ffd700"/>
<rect x="1168" y="831" width="16" height="20" fill="#000"/>
</g>
<rect x="1023" y="855" width="17" height="21" fill="#ff99cc"/>
<rect x="1168" y="855" width="16" height="21" fill="#66ccff"/>
<rect x="1023" y="880" width="17" height="21" fill="#66ff33"/>
<rect x="1023" y="905" width="17" height="21" fill="#ffff33"/>
<text class="lb" x="1055" y="797">Packaging</text>
<text class="lb" x="1055" y="822">Replication</text>
<text class="lb" x="1055" y="847">Lysis</text>
<text class="lb" x="1053" y="872">GC skew-</text>
<text class="lb" x="1053" y="898">GC content &lt; average GC content</text>
<text class="lb" x="1053" y="923">GC content &gt; average GC content</text>
<text class="lb" x="1199" y="797">Regulatory</text>
<text class="lb" x="1199" y="822">Structure</text>
<text class="lb" x="1199" y="847">Uncharacterized</text>
<text class="lb" x="1200" y="872">GC skew+</text>
</g>
</svg>
